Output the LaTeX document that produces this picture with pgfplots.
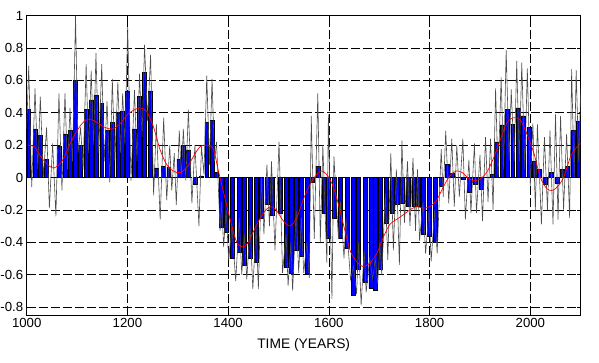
\documentclass[border=0pt]{standalone}
\usepackage{fontspec}
\setmainfont{Liberation Sans}
\usepackage{pgfplots}
\pgfplotsset{compat=1.18}
\begin{document}
\begin{tikzpicture}
\useasboundingbox (-26.7pt,-48pt) rectangle (572.3pt,315pt);
\begin{axis}[
  at={(0,0)}, anchor=south west,
  scale only axis, width=554pt, height=299.3pt,
  xmin=1000, xmax=2100, ymin=-0.85, ymax=1,
  xtick={1000,1200,1400,1600,1800,2000},
  ytick={-0.8,-0.6,-0.4,-0.2,0,0.2,0.4,0.6,0.8,1},
  grid=major,
  major grid style={black, line width=0.6pt, dash pattern=on 9pt off 3pt},
  axis line style={black, line width=0.8pt},
  tick style={black, line width=0.5pt},
  tick align=inside, major tick length=4pt,
  /pgf/number format/assume math mode=true,
  xticklabel style={/pgf/number format/set thousands separator={}},
  yticklabel style={/pgf/number format/fixed},
  tick label style={font=\fontsize{13.2}{15}\selectfont},
  xlabel={TIME (YEARS)},
  xlabel style={font=\fontsize{13.8}{16}\selectfont, at={(axis description cs:0.5,0)}, anchor=center, yshift=-30pt},
]
\addplot[ybar, bar width=7.8, fill=blue, draw=black, line width=0.5pt] coordinates {
(1004,0.42) (1016.5,0.30) (1027,0.26) (1039.5,0.11) (1051.5,0.0) (1064,0.19) (1076,0.27) (1086,0.29) (1097,0.60) (1107,0.20)
(1118,0.42) (1128,0.48) (1137.5,0.51) (1149,0.46) (1159.5,0.29) (1170,0.34) (1181,0.40) (1190.5,0.41) (1200.5,0.535) (1214,0.30)
(1224,0.50) (1234,0.65) (1246,0.535) (1257.5,0.06) (1272,0.07) (1282,0.065) (1292,0.0) (1302,0.115) (1311,0.20) (1320,0.17)
(1335,-0.04) (1347,0.01) (1357.5,0.34) (1368,0.355) (1377,0.03) (1386,-0.31) (1396,-0.34) (1407.5,-0.50) (1422,-0.46) (1432,-0.545)
(1443.5,-0.50) (1455.5,-0.525) (1466,-0.25) (1477,-0.165) (1487,-0.235) (1503.5,-0.22) (1515,-0.555) (1524.5,-0.59) (1535,-0.45) (1545.5,-0.485)
(1556.5,-0.59) (1566.5,-0.03) (1578,0.07) (1590,-0.22) (1599.5,-0.375) (1611.5,-0.25) (1623,-0.375) (1636,-0.44) (1648,-0.725) (1659,-0.57)
(1672.5,-0.65) (1683.5,-0.685) (1692.5,-0.695) (1702,-0.57) (1714,-0.285) (1725.5,-0.22) (1735.5,-0.165) (1746.5,-0.16) (1757,-0.18) (1768.5,-0.18)
(1777,-0.18) (1787,-0.35) (1799.5,-0.365) (1811.5,-0.40) (1823.5,-0.055) (1834.5,0.08) (1844.5,0.025) (1856,0.0) (1867.5,-0.01) (1879.5,-0.09)
(1891,-0.04) (1902,-0.075) (1912.5,0.0) (1924,0.02) (1932,0.22) (1944,0.325) (1954,0.42) (1965,0.33) (1975.5,0.43) (1986,0.38)
(1997,0.31) (2008,0.10) (2018.5,0.05) (2030,-0.04) (2041,0.03) (2053,-0.035) (2064,0.05) (2074,0.07) (2085,0.29) (2095,0.35)
};
\addplot[black!70, line width=0.6pt, mark=none] coordinates {
(1000,0.30)
(1004,0.69) (1010,-0.06) (1016.5,0.55) (1022,0.05) (1027,0.50) (1033,0.0) (1039.5,0.31) (1045,-0.19) (1051.5,0.21) (1058,-0.24)
(1064,0.52) (1070,-0.08) (1076,0.52) (1081,0.05) (1086,0.43) (1091,0.10) (1097,1.0) (1102,0.15) (1107,0.31) (1112,0.05)
(1118,0.70) (1123,0.15) (1128,0.66) (1133,0.20) (1137.5,0.77) (1143,0.15) (1149,0.70) (1154,0.10) (1159.5,0.47) (1165,-0.03)
(1170,0.61) (1175,0.10) (1181,0.59) (1186,0.15) (1190.5,0.52) (1195,0.20) (1200.5,0.93) (1207,-0.02) (1214,0.54) (1219,0.10)
(1224,0.64) (1229,0.25) (1234,0.82) (1240,0.35) (1246,0.76) (1252,-0.11) (1257.5,0.33) (1265,-0.26) (1272,0.37) (1278,-0.14)
(1284,0.20) (1288,-0.08) (1293,0.15) (1297,-0.17) (1303,0.29) (1307,0.0) (1311,0.30) (1316,-0.02) (1321,0.42) (1328,-0.16)
(1334,0.20) (1342,-0.30) (1347,0.19) (1352,0.02) (1357.5,0.63) (1363,0.08) (1368,0.61) (1373,0.10) (1377,0.22) (1384,-0.33)
(1387,-0.15) (1391,-0.43) (1396,-0.20) (1401,-0.51) (1407.5,-0.30) (1415,-0.64) (1422,-0.25) (1427,-0.60) (1432,-0.35) (1437,-0.63)
(1443.5,-0.30) (1449,-0.69) (1455.5,-0.30) (1460,-0.69) (1466,0.0) (1471,-0.35) (1477,0.08) (1482,-0.30) (1486,0.10) (1493,-0.45)
(1501,0.22) (1508,-0.59) (1515,-0.35) (1519,-0.67) (1524.5,-0.40) (1528,-0.70) (1535,-0.20) (1540,-0.59) (1545.5,-0.25) (1550,-0.59)
(1556.5,-0.40) (1561,-0.62) (1565,0.38) (1571,-0.38) (1578,0.52) (1583,-0.40) (1588,0.20) (1596,-0.53) (1599,0.39) (1606,-0.75)
(1610,0.13) (1619,-0.38) (1623,-0.15) (1630,-0.50) (1634,-0.25) (1643,-0.63) (1649,-0.55) (1655,-0.72) (1659,-0.40) (1664,-0.79)
(1670,-0.45) (1674,-0.71) (1681,-0.50) (1687,-0.63) (1692,-0.50) (1697,-0.66) (1701,-0.40) (1705,-0.60) (1712,-0.10) (1717,-0.51)
(1723,0.15) (1728,-0.45) (1734,0.05) (1740,-0.54) (1745,0.23) (1750,-0.28) (1756,0.10) (1761,-0.30) (1767,0.12) (1772,-0.33)
(1776,0.05) (1780,-0.39) (1787,-0.15) (1792,-0.47) (1799,-0.20) (1803,-0.52) (1810,-0.20) (1815,-0.47) (1823,0.175) (1827,-0.12)
(1832,0.29) (1838,-0.16) (1844,0.24) (1849,-0.18) (1854,0.20) (1859,-0.12) (1866,0.24) (1871,-0.26) (1878,0.11) (1882,-0.22)
(1889,0.21) (1893,-0.22) (1900,0.14) (1905,-0.27) (1911,0.25) (1916,-0.15) (1921,0.24) (1926,-0.20) (1931,0.55) (1936,0.0)
(1942,0.62) (1947,0.05) (1952,0.79) (1958,0.10) (1962,0.545) (1968,0.10) (1973,0.72) (1978,0.10) (1983,0.71) (1989,0.05)
(1994,0.675) (2000,-0.05) (2005,0.335) (2010,-0.20) (2014,0.33) (2022,-0.29) (2028,0.25) (2034,-0.20) (2039,0.29) (2045,-0.29)
(2050,0.39) (2055,-0.26) (2060,0.38) (2066,-0.20) (2072,0.27) (2078,-0.25) (2082,0.67) (2087,0.0) (2091,0.665) (2096,0.10)
(2100,0.55)
};
\addplot[red, line width=0.7pt, smooth, mark=none] coordinates {
(1000,0.20) (1015,0.19) (1030,0.12) (1045,0.07) (1055,0.06) (1070,0.10) (1085,0.20) (1100,0.29) (1115,0.35) (1126,0.36)
(1140,0.34) (1155,0.31) (1170,0.30) (1185,0.33) (1200,0.39) (1215,0.42) (1225,0.43) (1238,0.41) (1252,0.31) (1265,0.17)
(1278,0.08) (1291,0.04) (1305,0.03) (1320,0.07) (1331,0.13) (1344,0.19) (1357,0.20) (1370,0.18) (1380,0.05) (1390,-0.08)
(1404,-0.26) (1417,-0.40) (1430,-0.43) (1440,-0.40) (1450,-0.335) (1462,-0.26) (1475,-0.20) (1485,-0.18) (1495,-0.20) (1510,-0.27)
(1523,-0.30) (1536,-0.25) (1550,-0.13) (1563,-0.04) (1576,0.02) (1586,0.04) (1595,0.02) (1605,-0.03) (1615,-0.12) (1628,-0.28)
(1642,-0.45) (1655,-0.52) (1668,-0.55) (1681,-0.53) (1695,-0.47) (1708,-0.37) (1721,-0.29) (1734,-0.26) (1748,-0.23) (1761,-0.20)
(1774,-0.18) (1787,-0.19) (1800,-0.18) (1814,-0.14) (1827,-0.06) (1840,0.01) (1853,0.04) (1865,0.03) (1875,0.0) (1887,-0.02)
(1900,-0.01) (1913,0.03) (1927,0.12) (1940,0.23) (1953,0.335) (1966,0.37) (1980,0.355) (1993,0.27) (2007,0.15) (2020,0.0)
(2033,-0.07) (2043,-0.08) (2053,-0.06) (2066,0.0) (2080,0.13) (2093,0.19) (2100,0.21)
};
\end{axis}
\end{tikzpicture}
\end{document}
